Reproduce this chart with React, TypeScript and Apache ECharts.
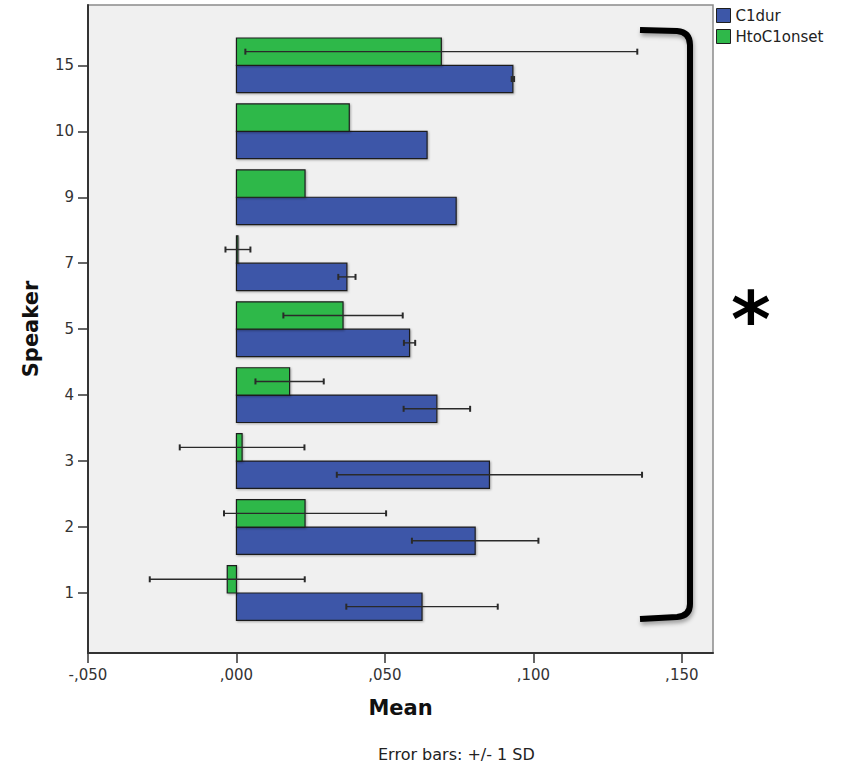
import React, { useEffect, useRef } from "react";
import * as echarts from "echarts";

const speakers = ["1", "2", "3", "4", "5", "7", "9", "10", "15"];
const c1durMean = [0.0625, 0.0804, 0.0852, 0.0675, 0.0583, 0.0372, 0.074, 0.0642, 0.0931];
const c1durSD: (number | null)[] = [0.0255, 0.0213, 0.0514, 0.0112, 0.0019, 0.0029, null, null, 0.0004];
const htoMean = [-0.0031, 0.0231, 0.0019, 0.0179, 0.0359, 0.0005, 0.0231, 0.038, 0.069];
const htoSD: (number | null)[] = [0.0261, 0.0273, 0.021, 0.0115, 0.0201, 0.0042, null, null, 0.066];
const xTicks = [-0.05, 0, 0.05, 0.1, 0.15];

const BLUE = "#3d57a8";
const GREEN = "#2fb84a";
const BAR_H = 0.415;
const FONT = "DejaVu Sans";

const bracketPath =
  "M640,30 L677,31 Q690,32 690,45 L690,604 Q690,616 677,617 L640,619";
let registered = false;

function fmtX(v: number) {
  const r = Math.round(v * 1000);
  const a = Math.abs(r);
  const s = "," + String(a).padStart(3, "0");
  return r < 0 ? "-" + s : s;
}

function barSeries(name: string, color: string, means: number[], up: boolean) {
  return {
    type: "custom",
    name,
    itemStyle: { color, borderColor: "#1e1e1e", borderWidth: 1 },
    encode: { x: 1, y: 0 },
    data: means.map((m, i) => [i, m]),
    z: 2,
    renderItem: (params: any, api: any) => {
      const i = api.value(0);
      const m = api.value(1);
      const y0 = up ? i : i - BAR_H;
      const y1 = up ? i + BAR_H : i;
      const p0 = api.coord([0, y0]);
      const p1 = api.coord([m, y1]);
      return {
        type: "rect",
        shape: {
          x: Math.min(p0[0], p1[0]),
          y: Math.min(p0[1], p1[1]),
          width: Math.abs(p1[0] - p0[0]),
          height: Math.abs(p1[1] - p0[1]),
        },
        style: {
          fill: color,
          stroke: "#1e1e1e",
          lineWidth: 1.2,
          shadowBlur: 2,
          shadowOffsetX: 1,
          shadowOffsetY: 1,
          shadowColor: "rgba(0,0,0,0.3)",
        },
      };
    },
  };
}

function errSeries(means: number[], sds: (number | null)[], up: boolean) {
  return {
    type: "custom",
    name: up ? "errH" : "errC",
    encode: { x: 1, y: 0 },
    data: means.map((m, i) => [i, m, sds[i] == null ? NaN : sds[i]]),
    z: 5,
    silent: true,
    renderItem: (params: any, api: any) => {
      const i = api.value(0);
      const m = api.value(1);
      const sd = api.value(2);
      if (sd == null || isNaN(sd)) return { type: "group", children: [] };
      const yc = up ? i + BAR_H / 2 : i - BAR_H / 2;
      const a = api.coord([m - sd, yc]);
      const b = api.coord([m + sd, yc]);
      const st = { stroke: "#2a2a2a", lineWidth: 1.4 };
      return {
        type: "group",
        children: [
          { type: "line", shape: { x1: a[0], y1: a[1], x2: b[0], y2: b[1] }, style: st },
          { type: "line", shape: { x1: a[0], y1: a[1] - 3, x2: a[0], y2: a[1] + 3 }, style: { stroke: "#2a2a2a", lineWidth: 2 } },
          { type: "line", shape: { x1: b[0], y1: b[1] - 3, x2: b[0], y2: b[1] + 3 }, style: { stroke: "#2a2a2a", lineWidth: 2 } },
        ],
      };
    },
  };
}

export default function App() {
  const ref = useRef<HTMLDivElement>(null);
  useEffect(() => {
    if (!ref.current) return;
    if (!registered) {
      echarts.graphic.registerShape("bracket", echarts.graphic.extendPath(bracketPath, {}));
      registered = true;
    }
    const chart = echarts.init(ref.current, undefined, { renderer: "svg" });
    chart.setOption({
      animation: false,
      backgroundColor: "#ffffff",
      textStyle: { fontFamily: FONT },
      grid: {
        left: 88,
        top: 5,
        right: 133,
        bottom: 114,
        show: true,
        backgroundColor: "#f0f0f0",
        borderColor: "#8a8a8a",
        borderWidth: 1.5,
        containLabel: false,
        outerBoundsMode: "none",
      },
      legend: {
        data: ["C1dur", "HtoC1onset"],
        orient: "vertical",
        left: 716,
        top: 8,
        itemWidth: 14,
        itemHeight: 14,
        itemGap: 6,
        icon: "rect",
        itemStyle: { borderColor: "#1e1e1e", borderWidth: 1 },
        textStyle: { fontFamily: FONT, fontSize: 15, color: "#222" },
        padding: 0,
      },
      xAxis: {
        type: "value",
        min: -0.05,
        max: 0.1605,
        name: "Mean",
        nameLocation: "middle",
        nameGap: 44,
        nameTextStyle: { fontFamily: FONT, fontSize: 21, fontWeight: "bold", color: "#111" },
        axisLine: { show: true, onZero: false, lineStyle: { color: "#333", width: 2 } },
        axisTick: { show: true, length: 10, lineStyle: { color: "#333", width: 1.5 }, customValues: xTicks },
        axisLabel: { margin: 14, fontSize: 15, color: "#333", fontFamily: FONT, formatter: (v: number) => fmtX(v), customValues: xTicks },
        splitLine: { show: false },
      },
      yAxis: {
        type: "value",
        min: -0.91,
        max: 8.915,
        name: "Speaker",
        nameLocation: "middle",
        nameGap: 47,
        nameRotate: 90,
        nameTextStyle: { fontFamily: FONT, fontSize: 21, fontWeight: "bold", color: "#111" },
        axisLine: { show: true, onZero: false, lineStyle: { color: "#333", width: 2 } },
        axisTick: { show: true, length: 10, lineStyle: { color: "#333", width: 1.5 }, customValues: speakers.map((_, i) => i) },
        axisLabel: {
          margin: 14,
          fontSize: 15,
          color: "#333",
          fontFamily: FONT,
          customValues: speakers.map((_, i) => i),
          formatter: (v: number) => speakers[Math.round(v)] ?? "",
        },
        splitLine: { show: false },
      },
      series: [
        barSeries("C1dur", BLUE, c1durMean, false),
        barSeries("HtoC1onset", GREEN, htoMean, true),
        errSeries(c1durMean, c1durSD, false),
        errSeries(htoMean, htoSD, true),
      ],
      graphic: [
        {
          type: "bracket",
          x: 0,
          y: 0,
          z: 100,
          style: {
            fill: "none",
            stroke: "#000",
            lineWidth: 6,
            shadowBlur: 4,
            shadowOffsetX: 1,
            shadowOffsetY: 3,
            shadowColor: "rgba(0,0,0,0.35)",
          },
        },
        {
          type: "text",
          left: 731,
          top: 281,
          z: 100,
          style: { text: "*", fontFamily: FONT, fontWeight: "bold", fontSize: 76, fill: "#000" },
        },
        {
          type: "text",
          left: 378,
          top: 746,
          z: 100,
          style: { text: "Error bars: +/- 1 SD", fontFamily: FONT, fontSize: 16, fill: "#222" },
        },
      ],
    });
    return () => chart.dispose();
  }, []);
  return <div ref={ref} style={{ position: "absolute", left: 0, top: 0, width: 846, height: 767 }} />;
}
